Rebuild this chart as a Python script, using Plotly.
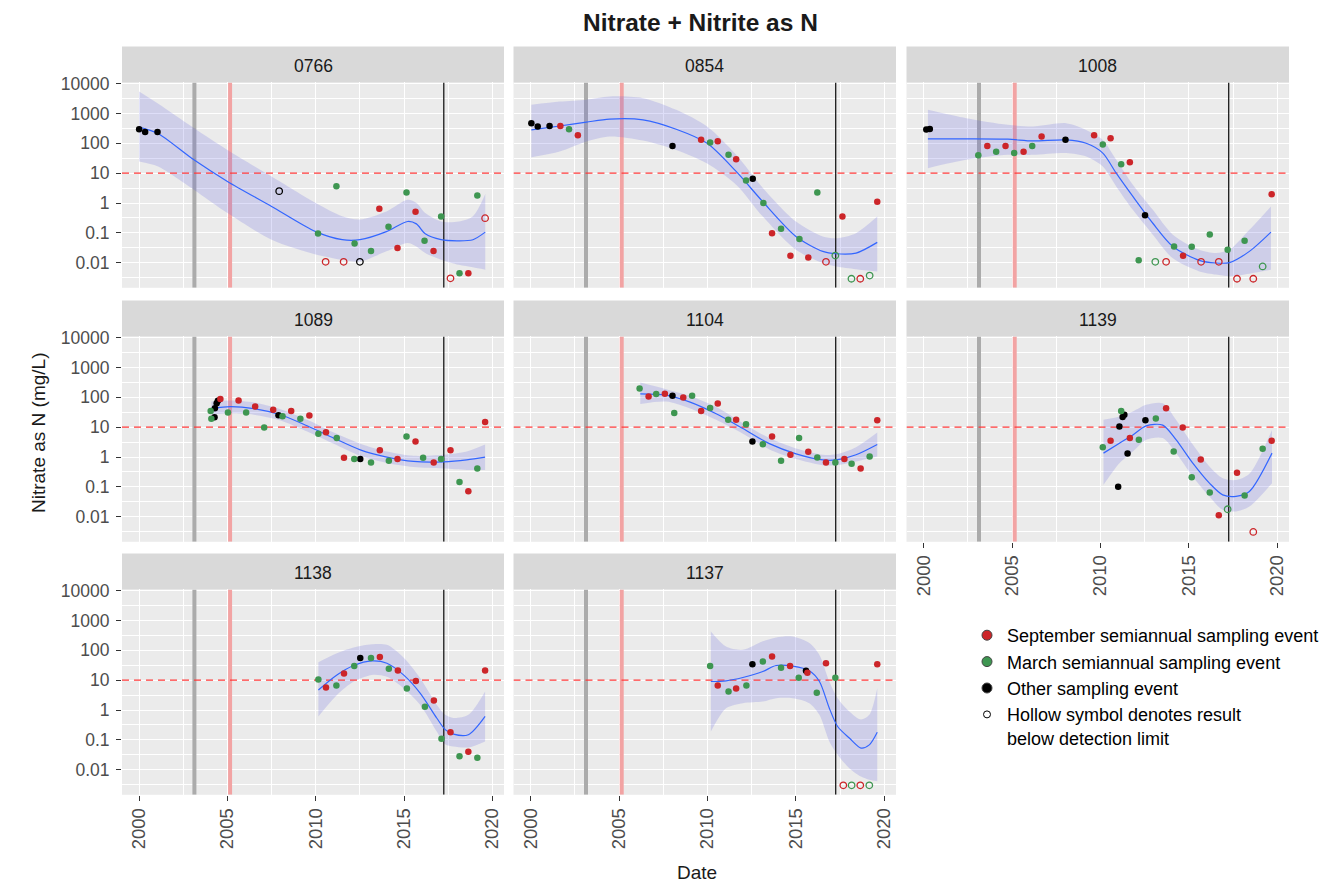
import plotly.graph_objects as go

# The page body adds an 8 px margin, so every page-pixel position below is
# converted with that offset.
PAGE_W, PAGE_H = 1339, 884
OFF = 8
W, H = PAGE_W - OFF, PAGE_H - OFF

# ---------------- data ----------------
# event: S = September semiannual, M = March semiannual, O = other sampling event
# nd: 1 = result below detection limit (hollow symbol)

s0766_year = [2000.0, 2000.34, 2001.04, 2007.93, 2010.13, 2010.56, 2011.17, 2011.58, 2012.2, 2012.5,
              2013.13, 2013.6, 2014.12, 2014.63, 2015.14, 2015.65, 2016.16, 2016.67, 2017.1, 2017.63,
              2018.14, 2018.64, 2019.15, 2019.59]
s0766_value = [296, 241, 241, 2.5, 0.095, 0.0107, 3.67, 0.0107, 0.044, 0.0107,
               0.0245, 0.64, 0.16, 0.031, 2.25, 0.51, 0.054, 0.0245, 0.355, 0.003,
               0.0044, 0.0044, 1.79, 0.31]
s0766_event = ["O", "O", "O", "O", "M", "S", "M", "S", "M", "O",
               "M", "S", "M", "S", "M", "S", "M", "S", "M", "S",
               "M", "S", "M", "S"]
s0766_nd = [0, 0, 0, 1, 0, 1, 0, 1, 0, 1,
            0, 0, 0, 0, 0, 0, 0, 0, 0, 1,
            0, 0, 0, 1]
f0766_year = [2000.0, 2001.04, 2003.1, 2005.0, 2007.5, 2010.0, 2011.5, 2012.5, 2014.0, 2015.2,
              2015.7, 2016.2, 2017.1, 2018.1, 2018.9, 2019.6]
f0766_fit = [350, 218, 28, 5.3, 0.77, 0.11, 0.059, 0.059, 0.11, 0.24,
             0.2, 0.093, 0.059, 0.054, 0.059, 0.106]
f0766_lo = [24.6, 17, 2.8, 0.46, 0.059, 0.019, 0.0126, 0.011, 0.024, 0.046,
            0.035, 0.021, 0.0126, 0.0085, 0.007, 0.0058]
f0766_hi = [5400, 2180, 325, 60, 7.7, 1.0, 0.36, 0.28, 0.52, 1.28,
            1.0, 0.46, 0.24, 0.24, 0.36, 2.0]

s0854_year = [2000.04, 2000.4, 2001.07, 2001.68, 2002.17, 2002.67, 2008.02, 2009.64, 2010.15, 2010.58,
              2011.19, 2011.62, 2012.18, 2012.56, 2013.16, 2013.65, 2014.16, 2014.69, 2015.2, 2015.7,
              2016.21, 2016.7, 2017.23, 2017.63, 2018.14, 2018.64, 2019.17, 2019.6]
s0854_value = [470, 365, 380, 380, 296, 187, 82, 131, 106, 117,
               41, 29.4, 5.7, 6.5, 1.0, 0.098, 0.137, 0.017, 0.062, 0.015,
               2.25, 0.0107, 0.0174, 0.355, 0.0029, 0.0029, 0.0037, 1.1]
s0854_event = ["O", "O", "O", "S", "M", "S", "O", "S", "M", "S",
               "M", "S", "M", "O", "M", "S", "M", "S", "M", "S",
               "M", "S", "M", "S", "M", "S", "M", "S"]
s0854_nd = [0, 0, 0, 0, 0, 0, 0, 0, 0, 0,
            0, 0, 0, 0, 0, 0, 0, 0, 0, 0,
            0, 1, 1, 0, 1, 1, 1, 0]
f0854_year = [2000.04, 2001.64, 2003.15, 2004.46, 2006.35, 2008.23, 2009.98, 2011.62, 2013.13, 2015.0,
              2016.52, 2017.27, 2018.4, 2019.6]
f0854_fit = [282, 380, 510, 645, 610, 296, 100, 11.4, 1.1, 0.076, 0.024, 0.02, 0.021, 0.048]
f0854_lo = [34, 53, 115, 170, 124, 60, 21, 4.1, 0.35, 0.027, 0.0098, 0.0075, 0.0061, 0.0051]
f0854_hi = [1950, 2500, 2900, 3700, 3250, 1320, 365, 41, 3.2, 0.24, 0.076, 0.066, 0.098, 0.35]

s1008_year = [2000.15, 2000.35, 2003.09, 2003.6, 2004.1, 2004.63, 2005.12, 2005.65, 2006.14, 2006.67,
              2008.02, 2009.64, 2010.13, 2010.57, 2011.17, 2011.66, 2012.16, 2012.52, 2013.1, 2013.71,
              2014.16, 2014.67, 2015.16, 2015.69, 2016.18, 2016.69, 2017.19, 2017.72, 2018.15, 2018.64,
              2019.17, 2019.68]
s1008_value = [290, 300, 40, 82, 52, 82, 47, 52, 82, 169,
               131, 187, 91, 148, 20, 23, 0.012, 0.39, 0.0107, 0.0107,
               0.035, 0.017, 0.034, 0.0107, 0.089, 0.0107, 0.027, 0.0029, 0.054, 0.0029,
               0.0075, 1.98]
s1008_event = ["O", "O", "M", "S", "M", "S", "M", "S", "M", "S",
               "O", "S", "M", "S", "M", "S", "M", "O", "M", "S",
               "M", "S", "M", "S", "M", "S", "M", "S", "M", "S",
               "M", "S"]
s1008_nd = [0, 0, 0, 0, 0, 0, 0, 0, 0, 0,
            0, 0, 0, 0, 0, 0, 0, 0, 1, 1,
            0, 0, 0, 1, 0, 1, 0, 1, 0, 1,
            1, 0]
f1008_year = [2000.24, 2002.41, 2004.76, 2006.18, 2008.06, 2009.19, 2010.13, 2010.89, 2011.83, 2012.96,
              2014.09, 2015.59, 2016.53, 2017.29, 2018.42, 2019.64]
f1008_fit = [141, 141, 137, 120, 130, 100, 47, 10, 1.66, 0.21,
             0.035, 0.012, 0.0098, 0.0101, 0.024, 0.106]
f1008_lo = [14.7, 28, 41, 41, 47, 36, 16.7, 3.6, 0.59, 0.087,
            0.014, 0.0051, 0.004, 0.0035, 0.0043, 0.0058]
f1008_hi = [1320, 690, 415, 365, 470, 280, 130, 28, 4.1, 0.59,
            0.087, 0.027, 0.021, 0.027, 0.126, 0.77]

s1089_year = [2004.05, 2004.09, 2004.27, 2004.29, 2004.39, 2004.46, 2004.6, 2005.03, 2005.63, 2006.06,
              2006.57, 2007.08, 2007.59, 2007.89, 2008.12, 2008.61, 2009.13, 2009.64, 2010.15, 2010.58,
              2011.19, 2011.6, 2012.18, 2012.52, 2013.13, 2013.63, 2014.14, 2014.63, 2015.14, 2015.65,
              2016.08, 2016.68, 2017.1, 2017.63, 2018.14, 2018.64, 2019.15, 2019.59]
s1089_value = [34.6, 19, 21.6, 43, 63, 76, 87, 31, 78, 31,
               49, 9.8, 38, 25, 23, 35, 19, 24.5, 6.0, 6.8,
               4.3, 0.94, 0.85, 0.85, 0.66, 1.7, 0.75, 0.85, 4.9, 3.3,
               0.94, 0.66, 0.85, 1.7, 0.145, 0.072, 0.41, 15]
s1089_event = ["M", "M", "O", "O", "O", "O", "S", "M", "S", "M",
               "S", "M", "S", "O", "M", "S", "M", "S", "M", "S",
               "M", "S", "M", "O", "M", "S", "M", "S", "M", "S",
               "M", "S", "M", "S", "M", "S", "M", "S"]
s1089_nd = [0] * 38
f1089_year = [2004.09, 2005.18, 2006.5, 2008.0, 2009.51, 2011.02, 2012.52, 2014.03, 2015.54, 2017.23,
              2018.55, 2019.59]
f1089_fit = [43, 49, 42, 26, 11.1, 4.3, 1.74, 0.99, 0.71, 0.69, 0.8, 0.99]
f1089_lo = [26, 29, 26, 16.7, 7.2, 2.8, 1.1, 0.63, 0.46, 0.41, 0.37, 0.37]
f1089_hi = [72, 78, 67, 40, 17.6, 6.6, 2.8, 1.53, 1.1, 1.19, 1.53, 2.6]

s1104_year = [2006.16, 2006.67, 2007.1, 2007.59, 2008.02, 2008.12, 2008.63, 2009.13, 2009.64, 2010.15,
              2010.58, 2011.17, 2011.62, 2012.18, 2012.54, 2013.13, 2013.65, 2014.16, 2014.69, 2015.18,
              2015.7, 2016.21, 2016.7, 2017.23, 2017.74, 2018.15, 2018.66, 2019.17, 2019.6]
s1104_value = [196, 107, 128, 131, 112, 30, 98, 112, 35, 44,
               62, 17.6, 17.6, 12.6, 3.3, 2.7, 4.9, 0.75, 1.19, 4.3,
               1.5, 0.96, 0.66, 0.66, 0.85, 0.59, 0.41, 1.04, 17]
s1104_event = ["M", "S", "M", "S", "O", "M", "S", "M", "S", "M",
               "S", "M", "S", "M", "O", "M", "S", "M", "S", "M",
               "S", "M", "S", "M", "S", "M", "S", "M", "S"]
s1104_nd = [0] * 29
f1104_year = [2006.2, 2007.66, 2008.98, 2010.49, 2012.0, 2013.5, 2015.01, 2016.52, 2017.27, 2018.4, 2019.6]
f1104_fit = [131, 118, 70, 28, 9.0, 2.8, 1.28, 0.8, 0.8, 1.19, 2.63]
f1104_lo = [60, 72, 43, 17.6, 6.0, 1.8, 0.85, 0.53, 0.53, 0.71, 1.04]
f1104_hi = [313, 187, 112, 47, 13.6, 4.3, 1.93, 1.19, 1.23, 2.14, 6.6]

s1139_year = [2010.13, 2010.57, 2011.0, 2011.07, 2011.17, 2011.25, 2011.35, 2011.53, 2011.66, 2012.17,
              2012.54, 2013.13, 2013.71, 2014.14, 2014.65, 2015.16, 2015.67, 2016.18, 2016.69, 2017.19,
              2017.72, 2018.15, 2018.64, 2019.17, 2019.68]
s1139_value = [2.14, 3.5, 0.1, 10.5, 35, 22, 26, 1.32, 4.3, 3.8,
               17, 19.5, 43, 1.53, 9.8, 0.21, 0.83, 0.065, 0.0112, 0.0178,
               0.295, 0.051, 0.0031, 1.88, 3.5]
s1139_event = ["M", "S", "O", "O", "M", "O", "O", "O", "S", "M",
               "O", "M", "S", "M", "S", "M", "S", "M", "S", "M",
               "S", "M", "S", "M", "S"]
s1139_nd = [0, 0, 0, 0, 0, 0, 0, 0, 0, 0,
            0, 0, 0, 0, 0, 0, 0, 0, 0, 1,
            0, 0, 1, 0, 0]
f1139_year = [2010.17, 2011.07, 2011.83, 2012.58, 2013.52, 2014.27, 2015.22, 2016.16, 2016.91, 2017.66,
              2018.42, 2019.7]
f1139_fit = [1.35, 2.9, 5.5, 11.1, 11.7, 3.8, 0.62, 0.133, 0.054, 0.048, 0.07, 1.35]
f1139_lo = [0.117, 0.62, 1.53, 3.8, 4.3, 1.35, 0.22, 0.048, 0.017, 0.015, 0.022, 0.133]
f1139_hi = [17.6, 22.7, 33.5, 56, 63, 17.6, 2.6, 0.48, 0.195, 0.17, 0.275, 8.1]

s1138_year = [2010.15, 2010.58, 2011.17, 2011.6, 2012.18, 2012.52, 2013.13, 2013.63, 2014.14, 2014.65,
              2015.16, 2015.67, 2016.18, 2016.69, 2017.12, 2017.63, 2018.14, 2018.64, 2019.15, 2019.59]
s1138_value = [10.5, 5.7, 6.6, 16.7, 30, 55, 55, 60, 24, 21,
               5.3, 9.3, 1.28, 2.1, 0.11, 0.18, 0.028, 0.04, 0.025, 21]
s1138_event = ["M", "S", "M", "S", "M", "O", "M", "S", "M", "S",
               "M", "S", "M", "S", "M", "S", "M", "S", "M", "S"]
s1138_nd = [0] * 20
f1138_year = [2010.15, 2011.2, 2012.15, 2013.18, 2014.03, 2014.97, 2015.91, 2016.85, 2017.33, 2017.8,
              2018.64, 2019.59]
f1138_fit = [4.7, 15, 31, 44, 37, 15, 3.7, 0.54, 0.22, 0.155, 0.148, 0.61]
f1138_lo = [0.61, 3.2, 9.0, 15, 13, 5.4, 1.5, 0.19, 0.072, 0.06, 0.056, 0.089]
f1138_hi = [40, 80, 124, 160, 152, 57, 11.7, 1.5, 0.69, 0.54, 0.69, 4.2]

s1137_year = [2010.15, 2010.58, 2011.19, 2011.62, 2012.2, 2012.54, 2013.13, 2013.65, 2014.16, 2014.67,
              2015.16, 2015.57, 2015.65, 2016.18, 2016.7, 2017.23, 2017.68, 2018.15, 2018.64, 2019.15,
              2019.6]
s1137_value = [30, 6.6, 4.2, 5.3, 6.6, 34, 42, 62, 26, 30,
               12, 20.6, 17.6, 3.8, 37, 12, 0.003, 0.003, 0.003, 0.003,
               34]
s1137_event = ["M", "S", "M", "S", "M", "O", "M", "S", "M", "S",
               "M", "O", "S", "M", "S", "M", "S", "M", "S", "M",
               "S"]
s1137_nd = [0, 0, 0, 0, 0, 0, 0, 0, 0, 0,
            0, 0, 0, 0, 0, 0, 1, 1, 1, 1,
            0]
f1137_year = [2010.19, 2011.05, 2012.0, 2013.13, 2013.88, 2014.82, 2015.76, 2016.33, 2016.89, 2017.36,
              2018.02, 2018.68, 2019.15, 2019.6]
f1137_fit = [9.0, 9.5, 12.3, 19.5, 31, 29.5, 20.6, 9.0, 1.15, 0.28, 0.115, 0.053, 0.068, 0.18]
f1137_lo = [0.19, 1.15, 1.7, 1.93, 2.5, 2.5, 1.7, 0.69, 0.089, 0.032, 0.0113, 0.0059, 0.0046, 0.0041]
f1137_hi = [430, 134, 104, 200, 270, 290, 175, 70, 9.0, 2.5, 0.9, 0.48, 0.69, 5.4]

# reference lines
VLINE_GRAY = 2003.13
VLINE_PINK = 2005.15
VLINE_BLACK = 2017.25
HLINE_LIMIT = 10

x_ticks = [2000, 2005, 2010, 2015, 2020]
x_minor = [2002.5, 2007.5, 2012.5, 2017.5]
y_ticks = [0.01, 0.1, 1, 10, 100, 1000, 10000]
y_ticklabels = ["0.01", "0.1", "1", "10", "100", "1000", "10000"]
y_minor = [0.00316, 0.0316, 0.316, 3.16, 31.6, 316, 3162]

SITES = [
    ("0766", s0766_year, s0766_value, s0766_event, s0766_nd, f0766_year, f0766_fit, f0766_lo, f0766_hi),
    ("0854", s0854_year, s0854_value, s0854_event, s0854_nd, f0854_year, f0854_fit, f0854_lo, f0854_hi),
    ("1008", s1008_year, s1008_value, s1008_event, s1008_nd, f1008_year, f1008_fit, f1008_lo, f1008_hi),
    ("1089", s1089_year, s1089_value, s1089_event, s1089_nd, f1089_year, f1089_fit, f1089_lo, f1089_hi),
    ("1104", s1104_year, s1104_value, s1104_event, s1104_nd, f1104_year, f1104_fit, f1104_lo, f1104_hi),
    ("1139", s1139_year, s1139_value, s1139_event, s1139_nd, f1139_year, f1139_fit, f1139_lo, f1139_hi),
    ("1138", s1138_year, s1138_value, s1138_event, s1138_nd, f1138_year, f1138_fit, f1138_lo, f1138_hi),
    ("1137", s1137_year, s1137_value, s1137_event, s1137_nd, f1137_year, f1137_fit, f1137_lo, f1137_hi),
]

# ---------------- layout / style ----------------
X_RANGE = [1999.03, 2020.66]
Y_RANGE_LOG = [-2.84, 4.04]
Y_LIMITS = [10 ** Y_RANGE_LOG[0], 10 ** Y_RANGE_LOG[1]]

PANEL_POS = [(1, 1), (1, 2), (1, 3), (2, 1), (2, 2), (2, 3), (3, 1), (3, 2)]
COL_PX = [(122, 504), (513.5, 896), (906.5, 1289)]          # page pixels
ROW_PX = [(82.4, 287.8), (336.4, 541.8), (589.4, 794.8)]     # page pixels
STRIP_H = 36
FONT = "Liberation Sans, Arial, sans-serif"
COLORS = {"S": "#CC2529", "M": "#3E9651", "O": "#000000"}
RIBBON = "rgba(105,105,225,0.22)"
PANEL_BG = "#EBEBEB"
STRIP_BG = "#D9D9D9"


def fx(p):
    return (p - OFF) / W


def fy(p):
    return 1 - (p - OFF) / H


fig = go.Figure()
shapes = []
annotations = []
layout_axes = {}


def ref_line(xa, ya, xs, ys, color, width, dash="solid"):
    fig.add_trace(go.Scatter(x=xs, y=ys, xaxis=xa, yaxis=ya, mode="lines",
                             line=dict(color=color, width=width, dash=dash),
                             showlegend=False, hoverinfo="skip"))


for i, (site, yr, val, ev, nd, fyr, ffit, flo, fhi) in enumerate(SITES):
    k = i + 1
    r, c = PANEL_POS[i]
    xa = "x" if k == 1 else f"x{k}"
    ya = "y" if k == 1 else f"y{k}"

    # reference lines (under the data)
    ref_line(xa, ya, [VLINE_GRAY, VLINE_GRAY], Y_LIMITS, "#ABABAB", 4)
    ref_line(xa, ya, [VLINE_PINK, VLINE_PINK], Y_LIMITS, "#F2A3A3", 4)

    # confidence ribbon and smooth
    fig.add_trace(go.Scatter(x=fyr, y=flo, xaxis=xa, yaxis=ya, mode="lines",
                             line=dict(width=0, shape="spline", smoothing=0.8),
                             showlegend=False, hoverinfo="skip"))
    fig.add_trace(go.Scatter(x=fyr, y=fhi, xaxis=xa, yaxis=ya, mode="lines",
                             line=dict(width=0, shape="spline", smoothing=0.8),
                             fill="tonexty", fillcolor=RIBBON,
                             showlegend=False, hoverinfo="skip"))

    ref_line(xa, ya, [VLINE_BLACK, VLINE_BLACK], Y_LIMITS, "#1A1A1A", 1.3)
    ref_line(xa, ya, X_RANGE, [HLINE_LIMIT, HLINE_LIMIT], "#FF3B3B", 1.3, "7px,5px")

    fig.add_trace(go.Scatter(x=fyr, y=ffit, xaxis=xa, yaxis=ya, mode="lines",
                             line=dict(color="#3366FF", width=1.2, shape="spline", smoothing=0.8),
                             showlegend=False, hoverinfo="skip"))

    # sampling points
    for e in ("O", "M", "S"):
        for h in (0, 1):
            xs = [x for x, ee, hh in zip(yr, ev, nd) if ee == e and hh == h]
            ys = [v for v, ee, hh in zip(val, ev, nd) if ee == e and hh == h]
            if not xs:
                continue
            if h == 0:
                marker = dict(symbol="circle", size=6.5, color=COLORS[e], line=dict(width=0))
            else:
                marker = dict(symbol="circle-open", size=6.5, color=COLORS[e], line=dict(width=1.3))
            fig.add_trace(go.Scatter(x=xs, y=ys, xaxis=xa, yaxis=ya, mode="markers",
                                     marker=marker, showlegend=False))

    # strip
    cx0, cx1 = COL_PX[c - 1]
    ry0, ry1 = ROW_PX[r - 1]
    shapes.append(dict(type="rect", xref="paper", yref="paper", x0=fx(cx0), x1=fx(cx1),
                       y0=fy(ry0), y1=fy(ry0 - STRIP_H), fillcolor=STRIP_BG,
                       line=dict(width=0), layer="below"))
    annotations.append(dict(text=site, xref="paper", yref="paper", x=fx((cx0 + cx1) / 2),
                            y=fy(ry0 - STRIP_H / 2 + 2), xanchor="center", yanchor="middle",
                            showarrow=False, font=dict(family=FONT, size=17.5, color="#1A1A1A")))

    show_x = (r == 3) or (r == 2 and c == 3)
    show_y = (c == 1)
    xkey = "xaxis" if k == 1 else f"xaxis{k}"
    ykey = "yaxis" if k == 1 else f"yaxis{k}"
    layout_axes[xkey] = dict(
        domain=[fx(cx0), fx(cx1)], anchor=ya, range=X_RANGE,
        tickmode="array", tickvals=x_ticks, ticktext=[str(t) for t in x_ticks],
        showticklabels=show_x, ticks="outside" if show_x else "", ticklen=5, tickwidth=1.1,
        tickcolor="#333333", tickangle=-90,
        tickfont=dict(family=FONT, size=18.5, color="#4D4D4D"),
        showgrid=True, gridcolor="white", gridwidth=1.4, zeroline=False, showline=False,
        minor=dict(tickmode="array", tickvals=x_minor, showgrid=True, gridcolor="white",
                   gridwidth=0.7, ticks=""),
        automargin=False,
    )
    layout_axes[ykey] = dict(
        domain=[fy(ry1), fy(ry0)], anchor=xa, type="log", range=Y_RANGE_LOG,
        tickmode="array", tickvals=y_ticks, ticktext=y_ticklabels,
        showticklabels=show_y, ticks="outside" if show_y else "", ticklen=5, tickwidth=1.1,
        tickcolor="#333333", ticklabelstandoff=3,
        tickfont=dict(family=FONT, size=17.5, color="#4D4D4D"),
        showgrid=True, gridcolor="white", gridwidth=1.4, zeroline=False, showline=False,
        minor=dict(tickmode="array", tickvals=y_minor, showgrid=True, gridcolor="white",
                   gridwidth=0.7, ticks=""),
        automargin=False,
    )

# legend entries
LEGEND_ITEMS = [
    ("September semiannual sampling event", "circle", COLORS["S"], 10),
    ("March semiannual sampling event", "circle", COLORS["M"], 10),
    ("Other sampling event", "circle", COLORS["O"], 10),
    ("Hollow symbol denotes result<br>below detection limit", "circle-open", "#000000", 7),
]
for j, (name, sym, col, sz) in enumerate(LEGEND_ITEMS):
    fig.add_trace(go.Scatter(x=[None], y=[None], xaxis="x", yaxis="y", mode="markers", name=name,
                             marker=dict(symbol=sym, size=sz, color=col, line=dict(width=1)),
                             legendgroup=f"g{j}", showlegend=True))

# axis titles
annotations.append(dict(text="Date", xref="paper", yref="paper", x=fx(697), y=fy(872),
                        xanchor="center", yanchor="middle", showarrow=False,
                        font=dict(family=FONT, size=19, color="#1A1A1A")))
annotations.append(dict(text="Nitrate as N (mg/L)", xref="paper", yref="paper", x=fx(38), y=fy(433),
                        xanchor="center", yanchor="middle", showarrow=False, textangle=-90,
                        font=dict(family=FONT, size=19, color="#1A1A1A")))
# main title
annotations.append(dict(text="<b>Nitrate + Nitrite as N</b>", xref="paper", yref="paper",
                        x=fx(700), y=fy(22), xanchor="center", yanchor="middle", showarrow=False,
                        font=dict(family=FONT, size=24.5, color="#1A1A1A")))

fig.update_layout(
    width=W, height=H,
    margin=dict(l=0, r=0, t=0, b=0),
    paper_bgcolor="white", plot_bgcolor=PANEL_BG,
    font=dict(family=FONT),
    shapes=shapes, annotations=annotations,
    showlegend=True,
    legend=dict(x=fx(967), y=fy(617), xanchor="left", yanchor="top",
                font=dict(family=FONT, size=18, color="#000000"),
                bgcolor="rgba(0,0,0,0)", itemwidth=30, tracegroupgap=0, valign="top",
                itemsizing="trace"),
    **layout_axes,
)

fig.write_html("out.html")
